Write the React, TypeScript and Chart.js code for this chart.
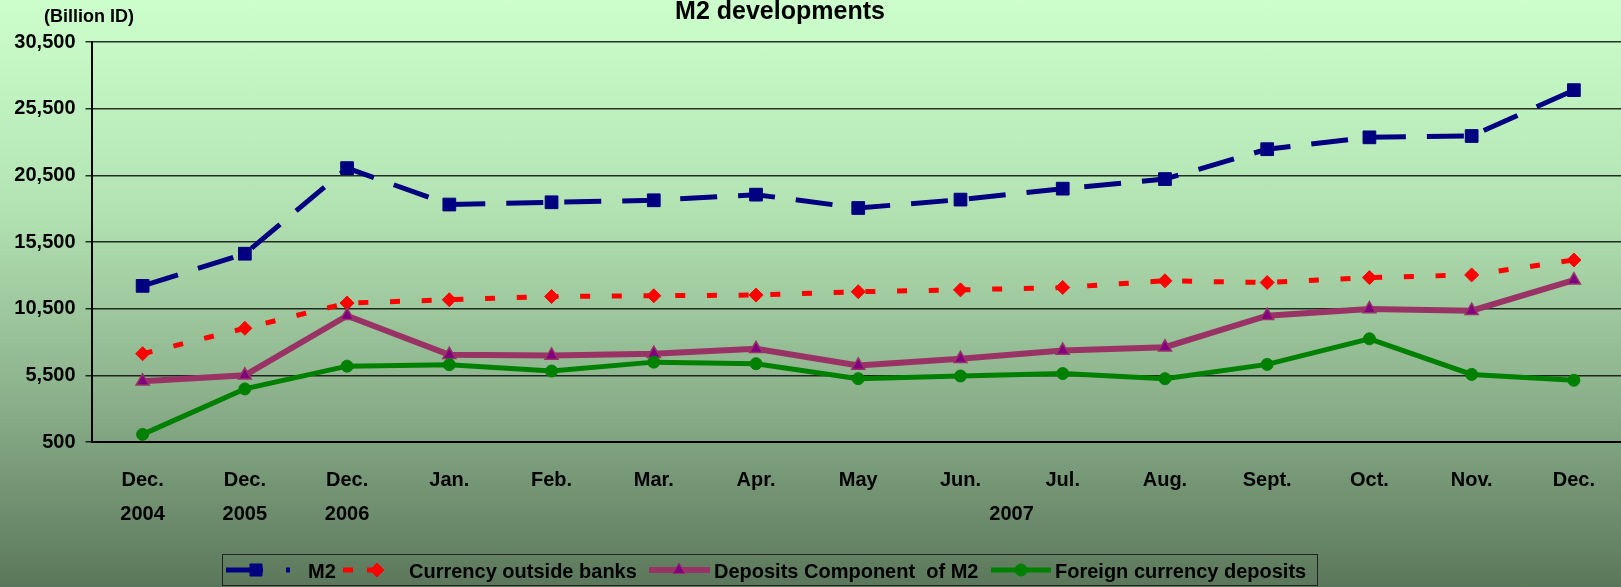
import React, { useEffect, useRef } from "react";
import { Chart, registerables } from "chart.js";
import { drawPoint } from "chart.js/helpers";

Chart.register(...registerables);

const monthLabels = ["Dec.", "Dec.", "Dec.", "Jan.", "Feb.", "Mar.", "Apr.", "May", "Jun.", "Jul.", "Aug.", "Sept.", "Oct.", "Nov.", "Dec."];
const yearLabels = ["2004", "2005", "2006", "2007"];
const yearFrom = [0, 1, 2, 3];
const yearTo = [0, 1, 2, 14];

const m2 = [12210, 14620, 21040, 18310, 18480, 18630, 19050, 18050, 18680, 19500, 20220, 22460, 23350, 23450, 26890];
const currencyOutside = [7120, 9030, 10920, 11170, 11410, 11470, 11520, 11770, 11910, 12090, 12590, 12460, 12830, 13030, 14150];
const depositsComponent = [5050, 5500, 9970, 7040, 6990, 7120, 7490, 6240, 6740, 7360, 7610, 9970, 10470, 10350, 12640];
const foreignDeposits = [1070, 4480, 6190, 6300, 5820, 6490, 6370, 5250, 5450, 5630, 5250, 6320, 8240, 5570, 5130];

const yMin = 500;
const yMax = 30500;
const yStep = 5000;

const FONT = "'Liberation Sans', Arial, Helvetica, sans-serif";

type LegendItem = {
  label: string;
  color: string;
  dash: number[];
  width: number;
  style: string;
  fill: string;
  border: string;
  radius: number;
  x0: number;
  x1: number;
  mx: number;
  tx: number;
};

const legendItems: LegendItem[] = [
  { label: "M2", color: "#000080", dash: [37, 23], width: 5, style: "rect", fill: "#000080", border: "#000080", radius: 8.5, x0: 226, x1: 290, mx: 256, tx: 308 },
  { label: "Currency outside banks", color: "#FF0000", dash: [10, 14], width: 5, style: "rectRot", fill: "#FF0000", border: "#FF0000", radius: 7, x0: 343, x1: 386, mx: 377, tx: 409 },
  { label: "Deposits Component  of M2", color: "#993366", dash: [], width: 6, style: "triangle", fill: "#800080", border: "#993366", radius: 7, x0: 649, x1: 710, mx: 679, tx: 714 },
  { label: "Foreign currency deposits", color: "#008000", dash: [], width: 5, style: "circle", fill: "#008000", border: "#008000", radius: 6, x0: 991, x1: 1051, mx: 1021, tx: 1055 },
];

const decorPlugin = {
  id: "decor",
  afterDraw(chart: any) {
    const ctx = chart.ctx as CanvasRenderingContext2D;
    const xs = chart.scales.x;
    ctx.save();
    // title
    ctx.fillStyle = "#000";
    ctx.textAlign = "center";
    ctx.textBaseline = "alphabetic";
    ctx.font = `bold 25px ${FONT}`;
    ctx.fillText("M2 developments", 780, 19);
    // unit
    ctx.font = `bold 18px ${FONT}`;
    ctx.fillText("(Billion ID)", 89, 22);
    // year row
    ctx.font = `bold 20px ${FONT}`;
    ctx.textBaseline = "middle";
    for (let i = 0; i < yearLabels.length; i++) {
      const x = (xs.getPixelForValue(yearFrom[i]) + xs.getPixelForValue(yearTo[i])) / 2;
      ctx.fillText(yearLabels[i], x, 514);
    }
    // legend
    ctx.strokeStyle = "#222";
    ctx.lineWidth = 1;
    ctx.strokeRect(222.5, 554.5, 1095, 31);
    const ly = 570;
    for (const it of legendItems) {
      ctx.save();
      ctx.strokeStyle = it.color;
      ctx.lineWidth = it.width;
      ctx.lineCap = "butt";
      ctx.setLineDash(it.dash);
      ctx.beginPath();
      ctx.moveTo(it.x0, ly);
      ctx.lineTo(it.x1, ly);
      ctx.stroke();
      ctx.setLineDash([]);
      ctx.fillStyle = it.fill;
      ctx.strokeStyle = it.border;
      ctx.lineWidth = 1;
      drawPoint(ctx, { pointStyle: it.style as any, rotation: 0, radius: it.radius, borderWidth: 1 }, it.mx, ly);
      ctx.restore();
      ctx.fillStyle = "#000";
      ctx.textAlign = "left";
      ctx.textBaseline = "alphabetic";
      ctx.font = `bold 20px ${FONT}`;
      ctx.fillText(it.label, it.tx, 578);
    }
    ctx.restore();
  },
};

export default function App() {
  const ref = useRef<HTMLCanvasElement | null>(null);

  useEffect(() => {
    if (!ref.current) return;
    const chart = new Chart(ref.current, {
      type: "line",
      data: {
        labels: monthLabels,
        datasets: [
          {
            label: "Foreign currency deposits",
            data: foreignDeposits,
            borderColor: "#008000",
            backgroundColor: "#008000",
            borderWidth: 5,
            pointStyle: "circle",
            pointRadius: 6,
            pointBorderWidth: 1,
            pointBackgroundColor: "#008000",
            pointBorderColor: "#008000",
            tension: 0,
          },
          {
            label: "Deposits Component  of M2",
            data: depositsComponent,
            borderColor: "#993366",
            backgroundColor: "#800080",
            borderWidth: 6,
            pointStyle: "triangle",
            pointRadius: 7.5,
            pointBorderWidth: 1.5,
            pointBackgroundColor: "#800080",
            pointBorderColor: "#993366",
            tension: 0,
          },
          {
            label: "Currency outside banks",
            data: currencyOutside,
            borderColor: "#FF0000",
            backgroundColor: "#FF0000",
            borderWidth: 5,
            borderDash: [10, 21.7],
            borderCapStyle: "butt",
            pointStyle: "rectRot",
            pointRadius: 7,
            pointBorderWidth: 1,
            pointBackgroundColor: "#FF0000",
            pointBorderColor: "#FF0000",
            tension: 0,
          },
          {
            label: "M2",
            data: m2,
            borderColor: "#000080",
            backgroundColor: "#000080",
            borderWidth: 5,
            borderDash: [37, 21],
            borderCapStyle: "butt",
            pointStyle: "rect",
            pointRadius: 9,
            pointBorderWidth: 1,
            pointBackgroundColor: "#000080",
            pointBorderColor: "#000080",
            tension: 0,
          },
        ],
      },
      options: {
        responsive: false,
        animation: false,
        layout: { padding: { top: 42, left: 0, right: 15, bottom: 0 } },
        plugins: {
          legend: { display: false },
          title: { display: false },
          tooltip: { enabled: false },
        },
        scales: {
          x: {
            type: "category",
            offset: true,
            grid: { display: false },
            border: { display: true, color: "#000", width: 2 },
            ticks: {
              color: "#000",
              font: { family: FONT, size: 20, weight: "bold" },
              padding: 18,
              autoSkip: false,
              maxRotation: 0,
              minRotation: 0,
            },
            afterFit: (s: any) => {
              s.height = 145;
            },
          },
          y: {
            min: yMin,
            max: yMax,
            ticks: {
              stepSize: yStep,
              color: "#000",
              font: { family: FONT, size: 20, weight: "bold" },
              padding: 10,
              callback: (v: any) => Number(v).toLocaleString("en-US"),
            },
            grid: { color: "rgba(0,0,0,0.8)", lineWidth: 1.5, tickLength: 6, drawTicks: true },
            border: { display: true, color: "#000", width: 2 },
            afterFit: (s: any) => {
              s.width = 91.5;
            },
          },
        },
      },
      plugins: [decorPlugin],
    });
    return () => chart.destroy();
  }, []);

  return (
    <div
      style={{
        position: "fixed",
        left: 0,
        top: 0,
        width: 1621,
        height: 587,
        overflow: "hidden",
        background: "linear-gradient(to bottom, #CCFFCC 0%, #B3E3B3 35%, #8FB58F 65%, #5B775B 100%)",
      }}
    >
      <canvas ref={ref} width={1640} height={587} style={{ display: "block", width: 1640, height: 587 }} />
    </div>
  );
}
